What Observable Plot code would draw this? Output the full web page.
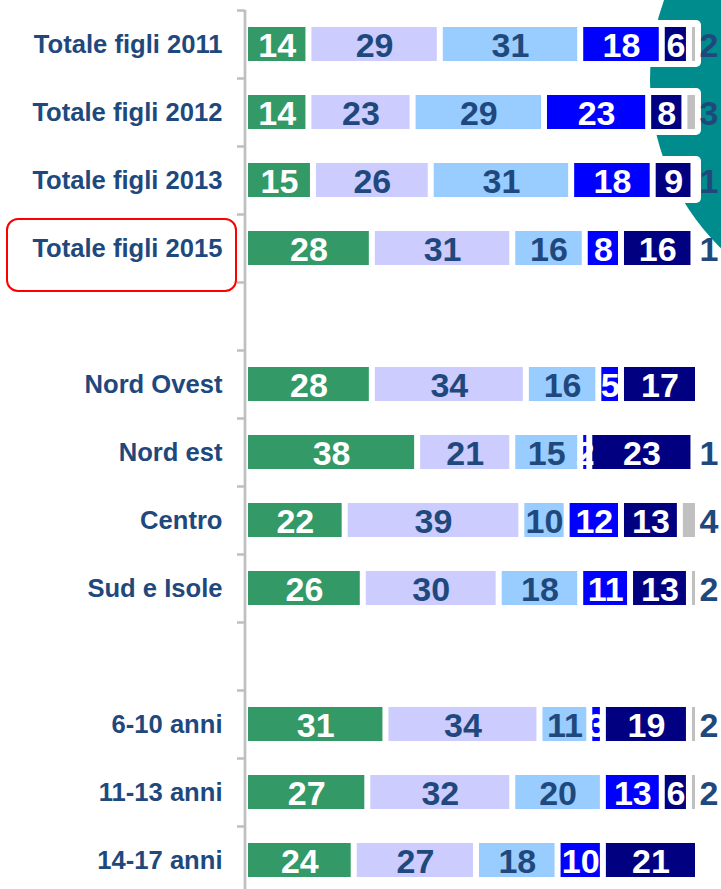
<!DOCTYPE html>
<html>
<head>
<meta charset="utf-8">
<script src="https://cdn.jsdelivr.net/npm/d3@7"></script>
<script src="https://cdn.jsdelivr.net/npm/@observablehq/plot@0.6"></script>
<style>
  html, body { margin: 0; padding: 0; overflow: hidden; background: #fff; width: 721px; height: 889px; }
  #wrap { position: relative; width: 721px; height: 889px; overflow: hidden; }
  #disc { position: absolute; left: 650px; top: -155px; width: 470px; height: 470px; border-radius: 50%; background: #008c8c; z-index: 0; }
  #chart { position: absolute; left: 0; top: 0; z-index: 1; }
  #highlight { position: absolute; left: 6px; top: 218px; width: 231px; height: 74px; box-sizing: border-box; border: 2px solid #ff0000; border-radius: 12px; z-index: 2; }
</style>
</head>
<body>
<div id="wrap">
  <div id="disc"></div>
  <div id="chart"></div>
  <div id="highlight"></div>
</div>
<script>
// Row categories ("" = empty spacer row)
const categories = ["Totale figli 2011", "Totale figli 2012", "Totale figli 2013", "Totale figli 2015", "",
  "Nord Ovest", "Nord est", "Centro", "Sud e Isole", "",
  "6-10 anni", "11-13 anni", "14-17 anni"];

// Series (stack order left to right)
const seriesNames = ["serie1", "serie2", "serie3", "serie4", "serie5", "serie6"];
const seriesColors = ["#339966", "#ccccff", "#99ccff", "#0000ff", "#000080", "#c0c0c0"];
const labelColors = ["#ffffff", "#1f497d", "#1f497d", "#ffffff", "#ffffff", "#1f497d"];

const serie1 = [14, 14, 15, 28, null, 28, 38, 22, 26, null, 31, 27, 24];
const serie2 = [29, 23, 26, 31, null, 34, 21, 39, 30, null, 34, 32, 27];
const serie3 = [31, 29, 31, 16, null, 16, 15, 10, 18, null, 11, 20, 18];
const serie4 = [18, 23, 18, 8, null, 5, 2, 12, 11, null, 3, 13, 10];
const serie5 = [6, 8, 9, 16, null, 17, 23, 13, 13, null, 19, 6, 21];
const serie6 = [2, 3, 1, 1, null, 0, 1, 4, 2, null, 2, 2, 0];
const seriesValues = [serie1, serie2, serie3, serie4, serie5, serie6];

const rowIds = categories.map((c, i) => String(i));
const dataRows = categories.map((c, i) => ({id: String(i), label: c})).filter(d => d.label !== "");

const segs = [];
categories.forEach((c, i) => {
  if (c === "") return;
  let acc = 0;
  seriesValues.forEach((vals, k) => {
    const v = vals[i];
    if (v > 0) {
      segs.push({id: String(i), series: seriesNames[k], k, value: v, x1: acc, x2: acc + v});
    }
    acc += v || 0;
  });
});
const inner = segs.filter(d => d.k < 5);
const outer = segs.filter(d => d.k === 5);

const font = "Liberation Sans, Arial, sans-serif";

const chart = Plot.plot({
  width: 721,
  height: 896,
  marginTop: 10,
  marginBottom: 2,
  marginLeft: 245,
  marginRight: 23,
  style: {background: "transparent", fontFamily: font, overflow: "visible"},
  x: {domain: [0, 100], axis: null},
  y: {domain: rowIds, padding: 0, axis: null},
  color: {domain: seriesNames, range: seriesColors},
  marks: [
    // white label boxes behind each row
    Plot.barX(dataRows, {y: "id", x1: 0, x2: 100, fill: "#ffffff", insetTop: 10, insetBottom: 11, insetLeft: -3, insetRight: -3, rx: 5}),
    // axis line and band ticks
    Plot.ruleX([0], {stroke: "#bfbfbf", strokeWidth: 2.7, dx: -0.5}),
    Plot.ruleY(rowIds, {y: d => d, x1: 0, x2: 0, insetLeft: -8, stroke: "#bfbfbf", strokeWidth: 2.5, dy: -34}),
    // bars
    Plot.barX(segs, {y: "id", x1: "x1", x2: "x2", fill: "series", insetLeft: 3, insetRight: 3, insetTop: 17, insetBottom: 17}),
    // inner labels
    Plot.text(inner, {y: "id", x: d => (d.x1 + d.x2) / 2, text: d => String(d.value), dy: 2,
      fill: d => labelColors[d.k], fontSize: 34, fontWeight: "bold", fontFamily: font}),
    // outside labels for last series
    Plot.text(outer, {y: "id", x: 100, text: d => String(d.value), textAnchor: "start", dx: 1, dy: 2,
      fill: labelColors[5], fontSize: 34, fontWeight: "bold", fontFamily: font}),
    // row labels
    Plot.text(dataRows, {y: "id", text: "label", frameAnchor: "left", textAnchor: "end", dx: -23,
      fill: "#1f497d", fontSize: 25.6, fontWeight: "bold", fontFamily: font})
  ]
});
document.getElementById("chart").appendChild(chart);
</script>
</body>
</html>
